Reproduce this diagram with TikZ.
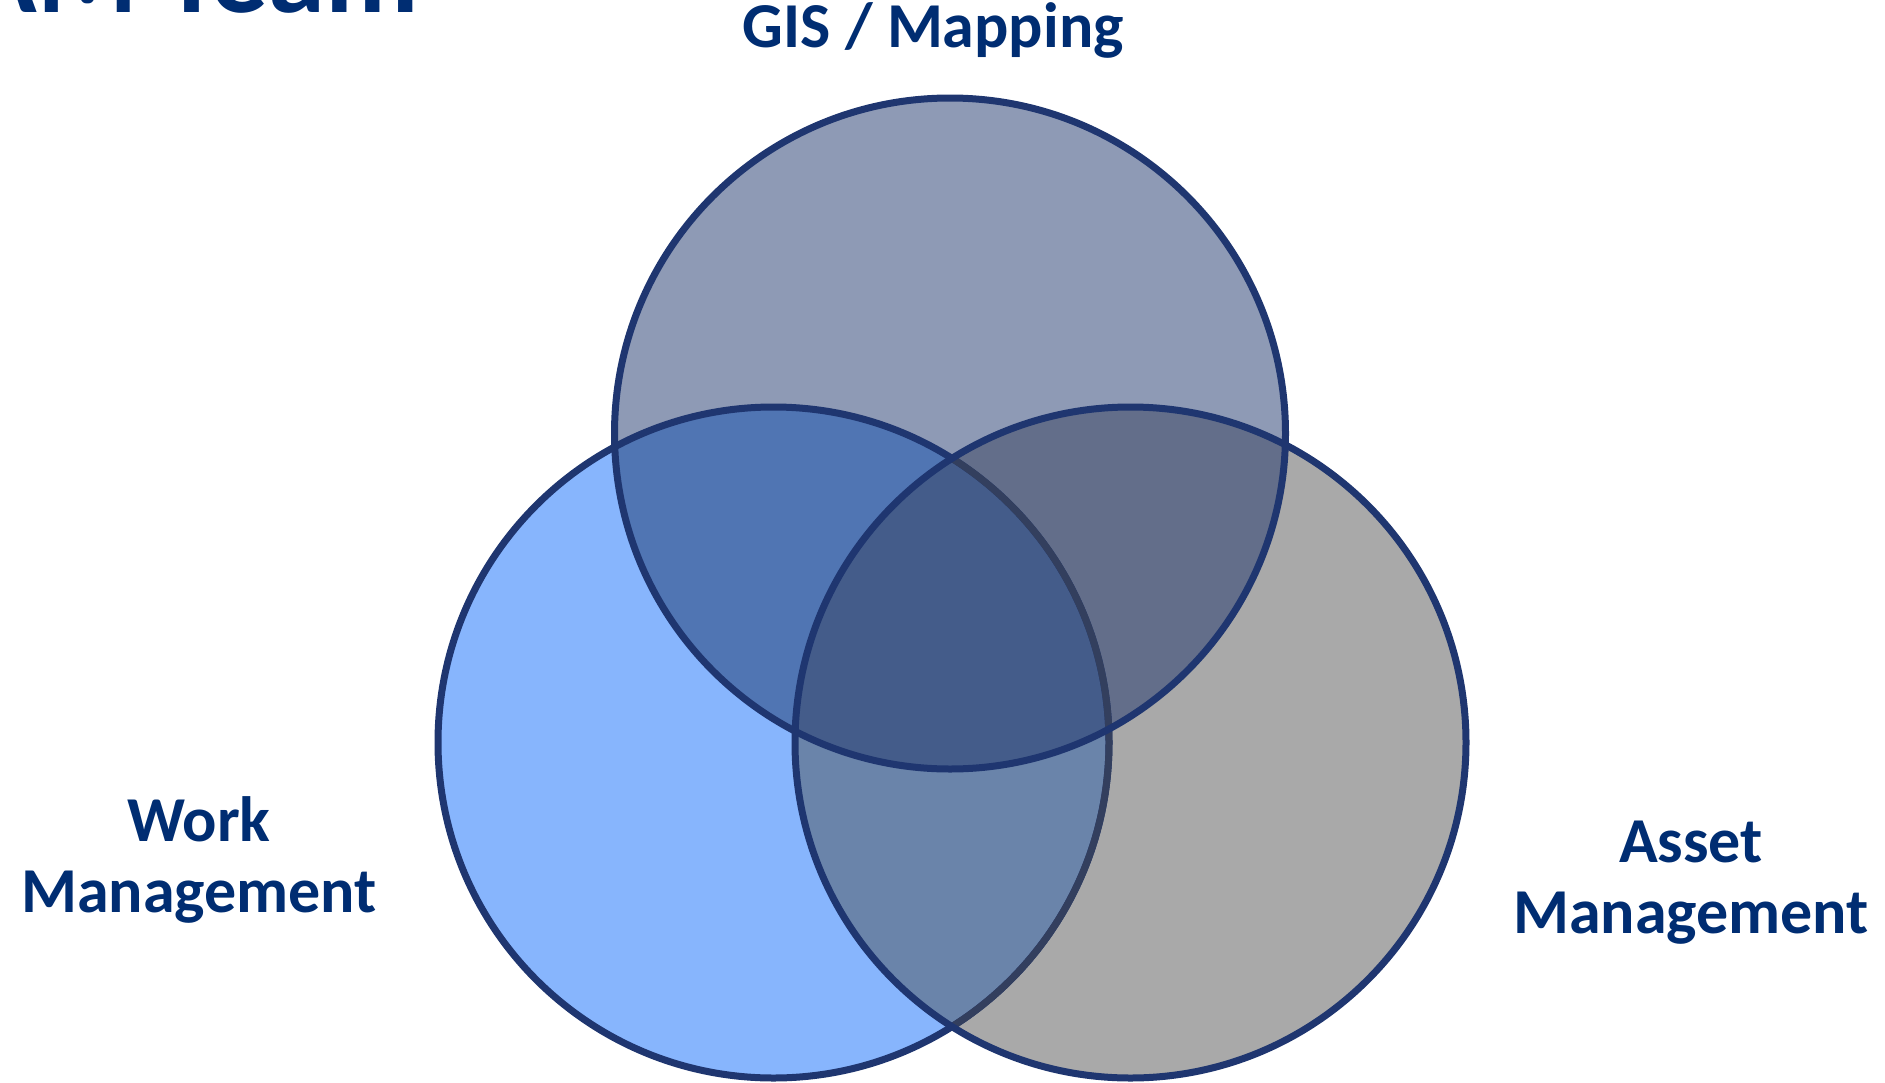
\documentclass[tikz,border=0pt]{standalone}
\usepackage{fontspec}
\setmainfont{Carlito}
\definecolor{cT}{HTML}{8E9AB5}
\definecolor{cL}{HTML}{87B5FD}
\definecolor{cR}{HTML}{A9A9A9}
\definecolor{cTL}{HTML}{5075B3}
\definecolor{cTR}{HTML}{636E8A}
\definecolor{cLR}{HTML}{6A84AA}
\definecolor{cC}{HTML}{445C8A}
\definecolor{olc}{HTML}{1F3670}
\definecolor{olf}{HTML}{333F5E}
\definecolor{txt}{HTML}{002D72}
\begin{document}
\begin{tikzpicture}[x=1pt,y=-1pt,
  ring/.style={draw=olc,line width=7pt},
  fadedring/.style={draw=olf,line width=7pt},
  lbl/.style={text=txt,font=\bfseries\fontsize{64}{71}\selectfont,inner sep=0pt,align=center},
  title/.style={text=txt,font=\bfseries\fontsize{115}{120}\selectfont,inner sep=0pt}]
\useasboundingbox (0,0) rectangle (1885,1082);
\clip (0,0) rectangle (1885,1082);
\def\rr{335.5pt}
\coordinate (T) at (950,433.5);
\coordinate (L) at (773.5,742.5);
\coordinate (R) at (1130.5,742.5);
% single regions
\fill[cT] (T) circle (\rr);
\fill[cL] (L) circle (\rr);
\fill[cR] (R) circle (\rr);
% pair overlaps with top
\begin{scope}
  \clip (T) circle (\rr);
  \fill[cTL] (L) circle (\rr);
  \fill[cTR] (R) circle (\rr);
\end{scope}
% left-right overlap and centre
\begin{scope}
  \clip (L) circle (\rr);
  \fill[cLR] (R) circle (\rr);
  \clip (T) circle (\rr);
  \fill[cC] (R) circle (\rr);
\end{scope}
% outlines
\draw[ring] (L) circle (\rr);
\begin{scope}
  \clip (R) circle (\rr);
  \draw[fadedring] (L) circle (\rr);
\end{scope}
\draw[ring] (R) circle (\rr);
\draw[ring] (T) circle (\rr);
% labels
\node[title,anchor=base east] (ttl) at (419,12.7) {AM Team};
\node[lbl,anchor=base] (gis) at (933,47) {GIS / Mapping};
\node[lbl,anchor=base] (work) at (199,912) {Work\\Management};
\node[lbl,anchor=base] (asset) at (1691,933) {Asset\\Management};
\end{tikzpicture}
\end{document}
